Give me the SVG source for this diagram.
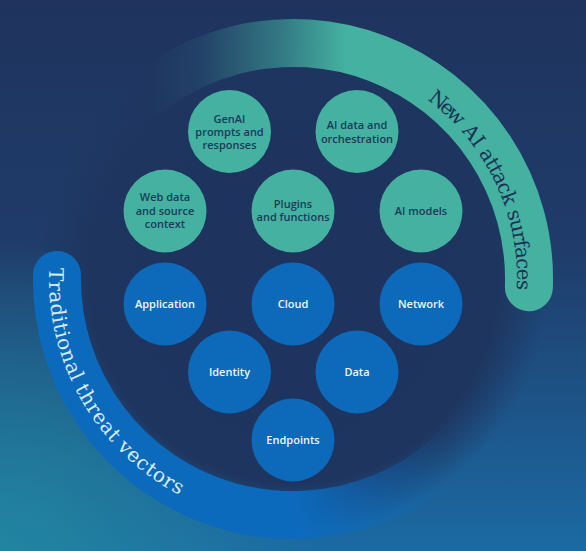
<svg xmlns="http://www.w3.org/2000/svg" width="586" height="551" viewBox="0 0 586 551">
  <defs>
    <linearGradient id="bg" x1="0" y1="0" x2="0" y2="1">
      <stop offset="0" stop-color="#1f335e"/>
      <stop offset="0.45" stop-color="#1f3c6a"/>
      <stop offset="1" stop-color="#1b6aa3"/>
    </linearGradient>
    <radialGradient id="glow" gradientUnits="userSpaceOnUse" cx="0" cy="560" r="320">
      <stop offset="0" stop-color="#2389a0" stop-opacity="0.9"/>
      <stop offset="1" stop-color="#2389a0" stop-opacity="0"/>
    </radialGradient>
    <radialGradient id="disk" gradientUnits="userSpaceOnUse" cx="293" cy="279" r="255">
      <stop offset="0" stop-color="#1e335d"/>
      <stop offset="0.8" stop-color="#1e355f"/>
      <stop offset="1" stop-color="#1e355f" stop-opacity="0"/>
    </radialGradient>
    <linearGradient id="tealFade" gradientUnits="userSpaceOnUse" x1="120" y1="0" x2="350" y2="0">
      <stop offset="0.13" stop-color="#44b1a1" stop-opacity="0"/>
      <stop offset="0.35" stop-color="#44b1a1" stop-opacity="0.1"/>
      <stop offset="0.70" stop-color="#44b1a1" stop-opacity="0.55"/>
      <stop offset="0.98" stop-color="#44b1a1" stop-opacity="1"/>
    </linearGradient>
    <linearGradient id="blueFade" gradientUnits="userSpaceOnUse" x1="0" y1="0" x2="586" y2="0">
      <stop offset="0.5" stop-color="#0c6abd" stop-opacity="1"/>
      <stop offset="0.76" stop-color="#0c6abd" stop-opacity="0"/>
    </linearGradient>
    <path id="tealTextPath" d="M405,85 A224,224 0 0 1 509.4,337"/>
    <path id="blueTextPath" d="M49.9,257.7 A244,244 0 0 0 271.7,522.1"/>
    <style>
      .teal { fill: #44b1a1; }
      .blue { fill: #0d69ba; }
      .tl { font-family: "Open Sans", "Noto Sans", sans-serif; font-weight: 600; font-size: 11px; fill: #1b3a5a; text-anchor: middle; }
      .bl { font-family: "Open Sans", "Noto Sans", sans-serif; font-weight: 600; font-size: 11px; fill: #eef5fc; text-anchor: middle; }
      .arcText { font-family: "DejaVu Serif", "Liberation Serif", serif; font-size: 20px; }
      .tealText { fill: #1c3156; }
      .blueText { fill: #d9ebfa; }
    </style>
  </defs>

  <rect width="586" height="551" fill="url(#bg)"/>
  <rect width="586" height="551" fill="url(#glow)"/>
  <circle cx="293" cy="279" r="255" fill="url(#disk)"/>

  <g id="arcs">
    <g id="new-ai-arc">
      <path d="M112.2,127.3 A236,236 0 0 1 528.9,287.2" fill="none" stroke="url(#tealFade)" stroke-width="48" stroke-linecap="round"/>
      <text class="arcText tealText"><textPath href="#tealTextPath" startOffset="26.6" textLength="40.7" lengthAdjust="spacing">New</textPath></text>
      <text class="arcText tealText"><textPath href="#tealTextPath" startOffset="73.2" textLength="22.1" lengthAdjust="spacing">AI</textPath></text>
      <text class="arcText tealText"><textPath href="#tealTextPath" startOffset="101.2" textLength="59.3" lengthAdjust="spacing">attack</textPath></text>
      <text class="arcText tealText"><textPath href="#tealTextPath" startOffset="166.4" textLength="79.1" lengthAdjust="spacing">surfaces</textPath></text>
    </g>
    <g id="traditional-arc">
      <path d="M57,274.9 A236,236 0 0 0 497.4,397" fill="none" stroke="url(#blueFade)" stroke-width="48" stroke-linecap="round"/>
      <text class="arcText blueText"><textPath href="#blueTextPath" startOffset="10.2" textLength="117.5" lengthAdjust="spacing">Traditional</textPath></text>
      <text class="arcText blueText"><textPath href="#blueTextPath" startOffset="134.5" textLength="66.2" lengthAdjust="spacing">threat</textPath></text>
      <text class="arcText blueText"><textPath href="#blueTextPath" startOffset="207.5" textLength="78.9" lengthAdjust="spacing">vectors</textPath></text>
    </g>
  </g>

  <g id="genai">
    <circle class="teal" cx="229.5" cy="131.5" r="41.5"/>
    <text class="tl"><tspan x="229.5" y="123">GenAI</tspan><tspan x="229.5" y="136">prompts and</tspan><tspan x="229.5" y="149">responses</tspan></text>
  </g>
  <g id="ai-data">
    <circle class="teal" cx="357" cy="131.5" r="41.5"/>
    <text class="tl"><tspan x="357" y="129">AI data and</tspan><tspan x="357" y="143">orchestration</tspan></text>
  </g>
  <g id="web-data">
    <circle class="teal" cx="165" cy="211" r="41.5"/>
    <text class="tl"><tspan x="165" y="201">Web data</tspan><tspan x="165" y="215">and source</tspan><tspan x="165" y="228">context</tspan></text>
  </g>
  <g id="plugins">
    <circle class="teal" cx="293" cy="211" r="41.5"/>
    <text class="tl"><tspan x="293" y="208">Plugins</tspan><tspan x="293" y="221">and functions</tspan></text>
  </g>
  <g id="ai-models">
    <circle class="teal" cx="421" cy="211" r="41.5"/>
    <text class="tl" x="421" y="215">AI models</text>
  </g>
  <g id="application">
    <circle class="blue" cx="165" cy="304" r="41.5"/>
    <text class="bl" x="165" y="308">Application</text>
  </g>
  <g id="cloud">
    <circle class="blue" cx="293" cy="304" r="41.5"/>
    <text class="bl" x="293" y="308">Cloud</text>
  </g>
  <g id="network">
    <circle class="blue" cx="421" cy="304" r="41.5"/>
    <text class="bl" x="421" y="308">Network</text>
  </g>
  <g id="identity">
    <circle class="blue" cx="229.5" cy="372" r="41.5"/>
    <text class="bl" x="229.5" y="376">Identity</text>
  </g>
  <g id="data">
    <circle class="blue" cx="357" cy="372" r="41.5"/>
    <text class="bl" x="357" y="376">Data</text>
  </g>
  <g id="endpoints">
    <circle class="blue" cx="293" cy="440" r="41.5"/>
    <text class="bl" x="293" y="444">Endpoints</text>
  </g>
</svg>
